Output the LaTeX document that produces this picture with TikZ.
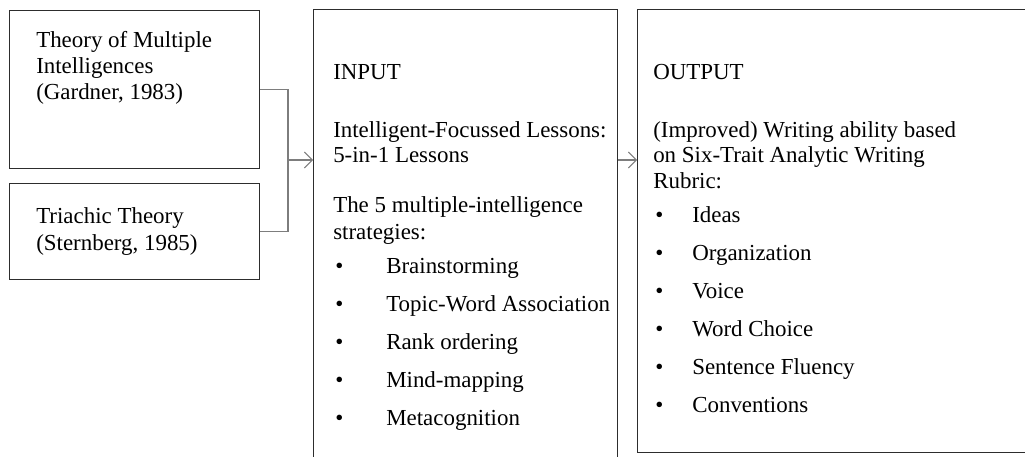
\documentclass[tikz,border=0pt]{standalone}
\usepackage{fontspec}
\setmainfont{Liberation Serif}
\usepackage{tikz}
\usetikzlibrary{arrows,arrows.meta,positioning,calc}
\definecolor{boxline}{RGB}{45,45,45}
\definecolor{linkgray}{RGB}{125,125,125}
\tikzstyle{framebox} = [rectangle, draw=boxline, line width=1.1pt, anchor=north west, inner sep=0pt]
\tikzstyle{link} = [line width=0.8pt, color=linkgray]
\tikzstyle{arrow} = [line width=0.8pt, -{Straight Barb[length=6pt,width=12pt,line width=0.7pt]}, color=linkgray]
\tikzstyle{txt} = [anchor=base west, inner sep=0pt, text=black, font=\fontsize{17.2}{19.5}\selectfont]

\begin{document}
\begin{tikzpicture}[x=0.75pt, y=-0.75pt]
\useasboundingbox (0,0) rectangle (1025,457);

% theory boxes on the left
\node[framebox, minimum width=187.5pt, minimum height=118.5pt] (theory) at (9,10) {};
\node[framebox, minimum width=187.5pt, minimum height=72pt] (triarchic) at (9,183) {};
\node[txt] (th1) at (36,47) {Theory of Multiple};
\node[txt] (th2) at (36,73) {Intelligences};
\node[txt] (th3) at (36,99) {(Gardner, 1983)};
\node[txt] (tr1) at (36,223) {Triachic Theory};
\node[txt] (tr2) at (36,250) {(Sternberg, 1985)};

% input and output boxes
\node[framebox, minimum width=228pt, minimum height=360pt] (input) at (313,9) {};
\node[framebox, minimum width=305pt, minimum height=332.25pt] (output) at (637,9) {};

\node[txt] (in1) at (333,79) {INPUT};
\node[txt] (in2) at (333,137) {Intelligent-Focussed Lessons:};
\node[txt] (in3) at (333,162) {5-in-1 Lessons};
\node[txt] (in4) at (333,212) {The 5 multiple-intelligence};
\node[txt] (in5) at (333,239) {strategies:};
\foreach \s [count=\i] in {Brainstorming, Topic-Word Association, Rank ordering, Mind-mapping, Metacognition}{
  \node[txt] (ib\i) at (335,{273+38*(\i-1)}) {\textbullet};
  \node[txt] (is\i) at (386,{273+38*(\i-1)}) {\s};
}

\node[txt] (out1) at (653,79) {OUTPUT};
\node[txt] (out2) at (653,137) {(Improved) Writing ability based};
\node[txt] (out3) at (653,162) {on Six-Trait Analytic Writing};
\node[txt] (out4) at (653,188) {Rubric:};
\foreach \s [count=\i] in {Ideas, Organization, Voice, Word Choice, Sentence Fluency, Conventions}{
  \node[txt] (ob\i) at (655,{222+38*(\i-1)}) {\textbullet};
  \node[txt] (os\i) at (692,{222+38*(\i-1)}) {\s};
}

% connectors
\coordinate (join) at (288,160);
\draw[link] (theory.east) -| (join) |- (triarchic.east);
\draw[arrow] (join) -- (join -| input.west);
\draw[arrow] (input.east |- join) -- (output.west |- join);
\end{tikzpicture}
\end{document}
